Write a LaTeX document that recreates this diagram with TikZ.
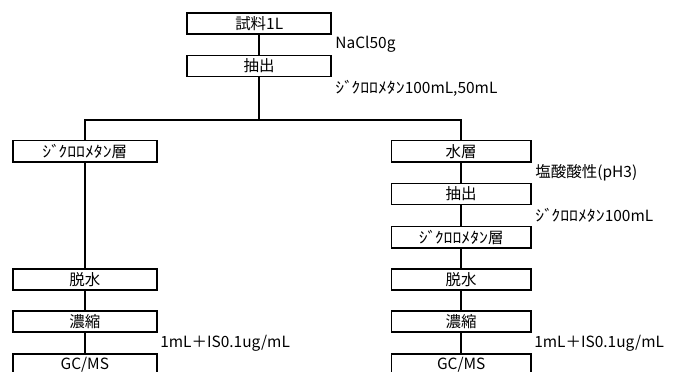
\documentclass[tikz,border=0pt]{standalone}
\usepackage{fontspec}
\setmainfont{Noto Sans CJK JP}
\newfontfamily\hankana[FakeStretch=1.15]{Noto Sans CJK JP}
\newcommand\dcm{{\hankana ｼﾞ\kern-0.12em ｸﾛﾛﾒﾀﾝ}}

\begin{document}
\begin{tikzpicture}[box/.style={draw=black,line width=1.1pt,fill=white,minimum width=3.6cm,minimum height=0.53cm,inner sep=0pt,font=\fontsize{11}{13}\selectfont},rbox/.style={box,minimum width=3.48cm},note/.style={anchor=west,inner sep=0pt,font=\fontsize{11}{13}\selectfont},link/.style={line width=1.1pt}]
\clip (0,0) rectangle (16.95,-9.3);
% main trunk
\node[box] (s0) at (6.48,-0.59) {試料1L};
\node[box] (s1) at (6.48,-1.65) {抽出};
\coordinate (split) at (6.48,-3.0);
\node[note] (n0) at (8.38,-1.1) {NaCl50g};
\node[note] (n1) at (8.38,-2.2) {\dcm{}100mL,50mL};
% left branch
\node[box] (l1) at (2.12,-3.78) {\dcm{}層};
\node[box] (l2) at (2.12,-6.99) {脱水};
\node[box] (l3) at (2.12,-8.04) {濃縮};
\node[box] (l4) at (2.12,-9.11) {GC/MS};
\node[note] (n2) at (4.0,-8.58) {1mL＋IS0.1ug/mL};
% right branch
\node[rbox] (r1) at (11.53,-3.78) {水層};
\node[rbox] (r2) at (11.53,-4.85) {抽出};
\node[rbox] (r3) at (11.53,-5.93) {\dcm{}層};
\node[rbox] (r4) at (11.53,-6.99) {脱水};
\node[rbox] (r5) at (11.53,-8.04) {濃縮};
\node[rbox] (r6) at (11.53,-9.11) {GC/MS};
\node[note] (n3) at (13.38,-4.33) {塩酸酸性(pH3)};
\node[note] (n4) at (13.38,-5.38) {\dcm{}100mL};
\node[note] (n5) at (13.35,-8.58) {1mL＋IS0.1ug/mL};
\draw[link] (s0)--(s1);
\draw[link] (s1)--(split);
\draw[link] (l1.north) |- (split) -| (r1.north);
\draw[link] (l1)--(l2);
\draw[link] (l2)--(l3);
\draw[link] (l3)--(l4);
\draw[link] (r1)--(r2);
\draw[link] (r2)--(r3);
\draw[link] (r3)--(r4);
\draw[link] (r4)--(r5);
\draw[link] (r5)--(r6);
\end{tikzpicture}
\end{document}
